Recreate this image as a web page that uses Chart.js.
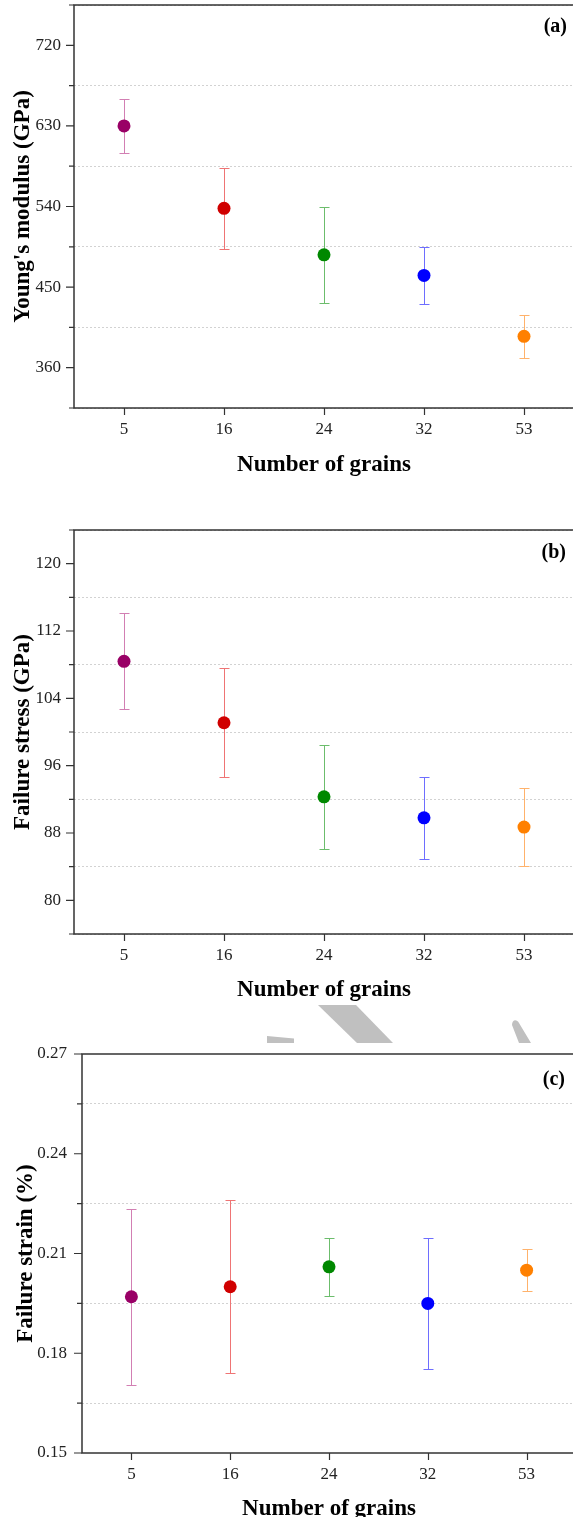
<!DOCTYPE html>
<html>
<head>
<meta charset="utf-8">
<script src="https://cdn.jsdelivr.net/npm/chart.js@4.4.1/dist/chart.umd.min.js"></script>
<style>
  html, body { margin: 0; padding: 0; background: #fff; overflow: hidden; }
  body { position: relative; width: 573px; height: 1517px; }
  canvas { position: absolute; left: 0; }
  #smudge { position: absolute; left: 0; top: 0; }
</style>
</head>
<body>
<svg id="smudge" width="573" height="1060">
  <g fill="#c0c0c0">
    <polygon points="267,1036 294,1038.5 294,1043 267,1043"/>
    <polygon points="318,1005 356,1005 393,1043 357,1043"/>
    <path d="M512,1025 C512,1019 517,1019 519,1023 L531,1043 L519,1043 Z"/>
  </g>
</svg>
<canvas id="modulus" width="576" height="480" style="top:0px"></canvas>
<canvas id="stress" width="576" height="506" style="top:500px"></canvas>
<canvas id="strain" width="576" height="517" style="top:1000px"></canvas>
<script>
const grains = ['5', '16', '24', '32', '53'];
const markerColors = ['#990066', '#d00000', '#008800', '#0000ff', '#ff8000'];
const barColors = ['#d27fb3', '#ef7474', '#6cbd6c', '#6e6eff', '#ffb26b'];

const modulusMean = [630, 538, 486, 463, 395];
const modulusErr = [30, 45, 54, 32, 24];
const modulusTicks = [360, 450, 540, 630, 720];

const stressMean = [108.4, 101.1, 92.3, 89.8, 88.7];
const stressErr = [5.7, 6.45, 6.15, 4.9, 4.6];
const stressTicks = [80, 88, 96, 104, 112, 120];

const strainMean = [0.197, 0.200, 0.206, 0.195, 0.205];
const strainErr = [0.0265, 0.026, 0.0088, 0.0197, 0.0063];
const strainTicks = [0.15, 0.18, 0.21, 0.24, 0.27];

const serif = '"Liberation Serif", "Times New Roman", serif';

function isMajor(list, v) {
  return list.some(t => Math.abs(t - v) < 1e-6);
}

// vertical error bars with short caps, drawn under the markers
const errorBars = {
  id: 'errorBars',
  beforeDatasetsDraw(chart, args, opts) {
    const { ctx } = chart;
    const y = chart.scales.y;
    const meta = chart.getDatasetMeta(0);
    const data = chart.data.datasets[0].data;
    ctx.save();
    ctx.lineWidth = 1;
    opts.errors.forEach((e, i) => {
      const x = Math.round(meta.data[i].x) + 0.5;
      const top = Math.round(y.getPixelForValue(data[i] + e)) + 0.5;
      const bot = Math.round(y.getPixelForValue(data[i] - e)) + 0.5;
      ctx.strokeStyle = barColors[i];
      ctx.beginPath();
      ctx.moveTo(x, top); ctx.lineTo(x, bot);
      ctx.moveTo(x - 5, top); ctx.lineTo(x + 5, top);
      ctx.moveTo(x - 5, bot); ctx.lineTo(x + 5, bot);
      ctx.stroke();
    });
    ctx.restore();
  }
};

// box frame, outward tick marks (long for labelled, short for the rest) and panel tag
const frame = {
  id: 'frame',
  afterDraw(chart, args, opts) {
    const { ctx, chartArea: a } = chart;
    const { x, y } = chart.scales;
    ctx.save();
    ctx.strokeStyle = '#333';
    ctx.lineWidth = 1.5;
    ctx.strokeRect(a.left, a.top, a.right - a.left, a.bottom - a.top);
    ctx.lineWidth = 1.2;
    ctx.beginPath();
    y.ticks.forEach(t => {
      const py = y.getPixelForValue(t.value);
      const len = isMajor(opts.major, t.value) ? 8 : 5;
      ctx.moveTo(a.left - len, py);
      ctx.lineTo(a.left, py);
    });
    grains.forEach((g, i) => {
      const px = Math.round(x.getPixelForValue(i)) + 0.5;
      ctx.moveTo(px, a.bottom);
      ctx.lineTo(px, a.bottom + 7);
    });
    ctx.stroke();
    ctx.fillStyle = '#000';
    ctx.font = 'bold 20px ' + serif;
    ctx.textAlign = 'right';
    ctx.textBaseline = 'middle';
    ctx.fillText(opts.tag, a.right - opts.tagInset, a.top + opts.tagDrop);
    ctx.restore();
  }
};

function panel(id, cfg) {
  new Chart(document.getElementById(id), {
    type: 'line',
    data: {
      labels: grains,
      datasets: [{
        data: cfg.mean,
        showLine: false,
        pointRadius: 6.5,
        pointHoverRadius: 6.5,
        pointBorderWidth: 0,
        pointBackgroundColor: markerColors,
        pointBorderColor: markerColors
      }]
    },
    options: {
      responsive: false,
      animation: false,
      events: [],
      // plot box is placed by hand; the canvas is a little wider than the page
      layout: { autoPadding: false, padding: { top: cfg.top, right: cfg.right, left: 0, bottom: 0 } },
      plugins: {
        legend: { display: false },
        tooltip: { enabled: false },
        errorBars: { errors: cfg.err },
        frame: { major: cfg.major, tag: cfg.tag, tagInset: cfg.tagInset, tagDrop: cfg.tagDrop }
      },
      scales: {
        x: {
          type: 'category',
          offset: true,
          afterFit(s) { s.height = cfg.xHeight; s.paddingLeft = 0; s.paddingRight = 0; },
          grid: { display: false, drawTicks: false },
          border: { display: false },
          ticks: { padding: 11, color: '#222', font: { family: serif, size: 17 } },
          title: {
            display: true, text: 'Number of grains', color: '#000',
            font: { family: serif, size: 23, weight: 'bold' },
            padding: { top: 0, bottom: cfg.xTitlePad }
          }
        },
        y: {
          min: cfg.min,
          max: cfg.max,
          afterFit(s) { s.width = cfg.left; s.paddingTop = 0; s.paddingBottom = 0; },
          ticks: {
            stepSize: cfg.step,
            autoSkip: false,
            padding: cfg.labelPad,
            color: '#222',
            font: { family: serif, size: 17 },
            callback: v => isMajor(cfg.major, v) ? cfg.fmt(v) : ''
          },
          grid: {
            drawTicks: false,
            lineWidth: 1,
            color: c => isMajor(cfg.major, c.tick.value) ? 'rgba(0,0,0,0)' : '#d2d2d2'
          },
          border: { display: false, dash: [2, 2] },
          title: {
            display: true, text: cfg.yTitle, color: '#000',
            font: { family: serif, size: 23, weight: 'bold' },
            padding: cfg.yTitlePad
          }
        }
      }
    },
    plugins: [errorBars, frame]
  });
}

panel('modulus', {
  mean: modulusMean, err: modulusErr, major: modulusTicks,
  min: 315, max: 765, step: 45, fmt: v => String(v),
  yTitle: "Young's modulus (GPa)", tag: '(a)', tagInset: 7, tagDrop: 22,
  top: 5, right: 2, left: 74, labelPad: 13, yTitlePad: 9,
  xHeight: 72, xTitlePad: 1
});

panel('stress', {
  mean: stressMean, err: stressErr, major: stressTicks,
  min: 76, max: 124, step: 4, fmt: v => String(v),
  yTitle: 'Failure stress (GPa)', tag: '(b)', tagInset: 8, tagDrop: 23,
  top: 30, right: 2, left: 74, labelPad: 13, yTitlePad: 9,
  xHeight: 72, xTitlePad: 2
});

panel('strain', {
  mean: strainMean, err: strainErr, major: strainTicks,
  min: 0.15, max: 0.27, step: 0.015, fmt: v => v.toFixed(2),
  yTitle: 'Failure strain (%)', tag: '(c)', tagInset: 11, tagDrop: 26,
  top: 54, right: 0, left: 82, labelPad: 15, yTitlePad: 12,
  xHeight: 64, xTitlePad: -6
});
</script>
</body>
</html>
